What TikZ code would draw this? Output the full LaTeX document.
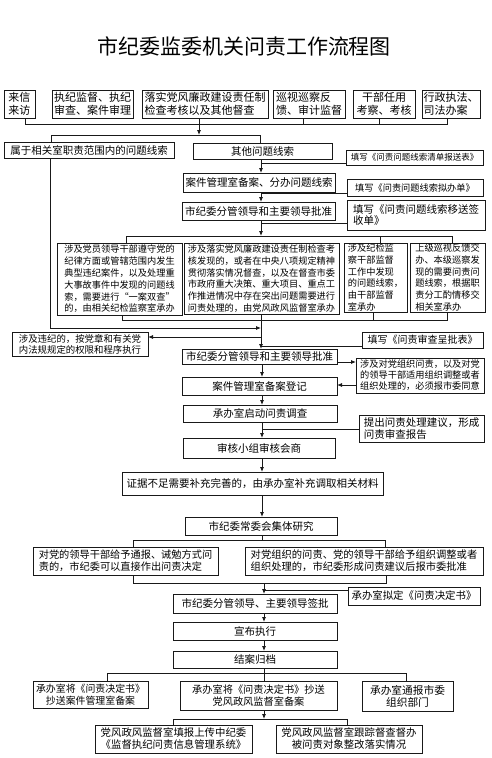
\documentclass[tikz,border=0pt]{standalone}
\usepackage{fontspec}
\setmainfont{Noto Sans CJK SC}
\usetikzlibrary{arrows.meta}
\tikzset{
  box/.style={draw=black!90, line width=0.8pt, inner sep=0pt, outer sep=0pt, align=center,
    font=\fontsize{10.5}{12.5}\selectfont},
  ln/.style={draw=black!90, line width=0.8pt},
  arr/.style={ln, -{Latex[length=5pt,width=4pt]}},
  small/.style={font=\fontsize{9.2}{11.8}\selectfont},
}
\newcommand\placebox[7][]{\node[box,minimum width={#4pt-#3pt},minimum height={#6pt-#5pt},#1] (#2) at ({(#3+#4)/2},{(#5+#6)/2}) {#7};}
\begin{document}
\begin{tikzpicture}[x=1pt,y=-1pt]
\fill[white] (0,0) rectangle (491,758);
\useasboundingbox (0,0) rectangle (491,758);
\node (title) at (244,46) {\fontsize{21}{21}\selectfont 市纪委监委机关问责工作流程图};
% top row
\placebox[font=\fontsize{11}{12.5}\selectfont]{t1}{4}{35}{90}{118}{来信\\来访}
\placebox[font=\fontsize{11}{12.5}\selectfont]{t2}{52}{133}{90}{118}{执纪监督、执纪\\审查、案件审理}
\placebox[font=\fontsize{11}{12.5}\selectfont,align=left]{t3}{142}{268}{90}{118}{落实党风廉政建设责任制\\检查考核以及其他督查}
\placebox[font=\fontsize{11}{12.5}\selectfont,align=left]{t4}{273}{345}{90}{118}{巡视巡察反\\馈、审计监督}
\placebox[font=\fontsize{11}{12.5}\selectfont]{t5}{353}{415}{90}{118}{干部任用\\考察、考核}
\placebox[font=\fontsize{11}{12.5}\selectfont,align=left]{t6}{422}{480}{90}{118}{行政执法、\\司法办案}
% row 2-4
\placebox{r1}{4}{174}{142}{158}{属于相关室职责范围内的问题线索}
\placebox{r2}{193}{332}{143}{159}{其他问题线索}
\placebox[font=\fontsize{8.5}{10}\selectfont]{n1}{346}{483}{150}{165}{填写《问责问题线索清单报送表》}
\placebox{r3}{183}{335}{173}{192}{案件管理室备案、分办问题线索}
\placebox[font=\fontsize{9.2}{10}\selectfont]{n2}{347}{483}{179}{196}{填写《问责问题线索拟办单》}
\placebox{r4}{182}{335}{202}{220}{市纪委分管领导和主要领导批准}
\placebox[align=left,font=\fontsize{10.5}{11.5}\selectfont]{n3}{347}{485}{200}{230}{填写《问责问题线索移送签\\收单》}
% row 5
\placebox[small,align=left]{A}{57}{182}{243}{315}{涉及党员领导干部遵守党的\\纪律方面或管辖范围内发生\\典型违纪案件，以及处理重\\大事故事件中发现的问题线\\索，需要进行“一案双查”\\的，由相关纪检监察室承办}
\placebox[small,align=left]{B}{184}{339}{243}{314}{涉及落实党风廉政建设责任制检查考\\核发现的，或者在中央八项规定精神\\贯彻落实情况督查，以及在督查市委\\市政府重大决策、重大项目、重点工\\作推进情况中存在突出问题需要进行\\问责处理的，由党风政风监督室承办}
\placebox[small,align=left]{C}{344}{407}{243}{312}{涉及纪检监\\察干部监督\\工作中发现\\的问题线索，\\由干部监督\\室承办}
\placebox[small,align=left]{D}{410}{485}{243}{312}{上级巡视反馈交\\办、本级巡察发\\现的需要问责问\\题线索，根据职\\责分工酌情移交\\相关室承办}
% middle
\placebox[align=left,font=\fontsize{9.4}{11}\selectfont]{L1}{12}{148}{332}{356}{涉及违纪的，按党章和有关党\\内法规规定的权限和程序执行}
\placebox[font=\fontsize{10}{11}\selectfont]{n4}{362}{483}{332}{348}{填写《问责审查呈批表》}
\placebox{r5}{182}{337}{349}{364}{市纪委分管领导和主要领导批准}
\placebox[align=left,font=\fontsize{9.2}{11}\selectfont]{n5}{356}{484}{358}{393}{涉及对党组织问责，以及对党\\的领导干部适用组织调整或者\\组织处理的，必须报市委同意}
\placebox{r6}{182}{337}{377}{395}{案件管理室备案登记}
\placebox{r7}{183}{337}{405}{422}{承办室启动问责调查}
\placebox[align=left,font=\fontsize{10.5}{12}\selectfont]{n6}{359}{484}{415}{442}{提出问责处理建议，形成\\问责审查报告}
\placebox{r8}{183}{335}{438}{458}{审核小组审核会商}
\placebox{r9}{122}{383}{472}{495}{证据不足需要补充完善的，由承办室补充调取相关材料}
\placebox{r10}{185}{337}{517}{535}{市纪委常委会集体研究}
\placebox[align=left,font=\fontsize{10.2}{12}\selectfont]{s1}{33}{218}{547}{575}{对党的领导干部给予通报、诫勉方式问\\责的，市纪委可以直接作出问责决定}
\placebox[align=left,font=\fontsize{10.3}{12}\selectfont]{s2}{245}{483}{547}{575}{对党组织的问责、党的领导干部给予组织调整或者\\组织处理的，市纪委形成问责建议后报市委批准}
\placebox[font=\fontsize{10.4}{12}\selectfont]{n7}{348}{480}{587}{605}{承办室拟定《问责决定书》}
\placebox{r11}{173}{337}{594}{613}{市纪委分管领导、主要领导签批}
\placebox{r12}{173}{337}{622}{640}{宣布执行}
\placebox{r13}{173}{337}{651}{668}{结案归档}
\placebox[font=\fontsize{9.9}{12}\selectfont]{u1}{33}{148}{681}{708}{承办室将《问责决定书》\\抄送案件管理室备案}
\placebox[font=\fontsize{10.2}{12}\selectfont]{u2}{180}{337}{681}{710}{承办室将《问责决定书》抄送\\党风政风监督室备案}
\placebox[font=\fontsize{10.7}{12}\selectfont]{u3}{362}{453}{681}{711}{承办室通报市委\\组织部门}
\placebox[font=\fontsize{10.4}{12}\selectfont]{v1}{95}{252}{725}{753}{党风政风监督室填报上传中纪委\\《监督执纪问责信息管理系统》}
\placebox[font=\fontsize{10.4}{12}\selectfont]{v2}{276}{422}{725}{753}{党风政风监督室跟踪督查督办\\被问责对象整改落实情况}
% columns
\coordinate (c1) at (261,0);
\coordinate (c2) at (262,0);
\coordinate (c3) at (264,0);
% top connectors
\coordinate (k1) at (25,124); \coordinate (k4) at (303,124);
\coordinate (k5) at (379,124); \coordinate (k6) at (447,124);
\draw[ln] (t1.south -| k1) -- (k1) -- (k6) -- (t6.south -| k6);
\draw[ln] (t4.south -| k4) -- (k4);
\draw[ln] (t5.south -| k5) -- (k5);
\coordinate (m3) at (199,135);
\draw[arr] (t3.south -| m3) -- (m3);
\coordinate (q1) at (51,135); \coordinate (q2) at (260,135);
\draw[ln] (r1.north -| q1) -- (q1) -- (q2) -- (r2.north -| q2);
% upper column
\draw[arr] (r2.south -| c1) -- (r3.north -| c1);
\draw[ln] ([yshift=2pt]n1.south west) -- ([yshift=2pt]n1.south west -| c1);
\draw[arr] (r3.south -| c1) -- (r4.north -| c1);
\draw[ln] ([yshift=3pt]n2.south west) -- ([yshift=3pt]n2.south west -| c1);
\draw[ln] ([yshift=7pt]n3.south west) -- ([yshift=7pt]n3.south west -| c1);
\coordinate (d1) at (126,236); \coordinate (d3) at (380,236); \coordinate (d4) at (452,236);
\draw[arr] (r4.south -| c1) -- (c1 |- d1);
\draw[ln] (A.north -| d1) -- (d1) -- (d4) -- (D.north -| d4);
\draw[ln] (d3) -- (C.north -| d3);
% bracket under row 5
\coordinate (e1) at (122,320); \coordinate (e3) at (373,320); \coordinate (e4) at (447,320);
\draw[ln] (A.south -| e1) -- (e1) -- (e4) -- (D.south -| e4);
\draw[ln] (C.south -| e3) -- (e3);
\draw[arr] (B.south -| c1) -- (r5.north -| c1);
% left loop
\coordinate (lp) at (50,328);
\draw[arr] (r1.south -| lp) -- (lp) -- (lp -| c1);
\coordinate (y337) at (0,337);
\draw[arr] (c1 |- y337) -- (L1.east |- y337);
\draw[ln] ([yshift=2pt]n4.south west) -- ([yshift=2pt]n4.south west -| c1);
% middle column
\draw[arr] ([yshift=2pt]r5.south east) -- ([yshift=2pt]r5.south east -| n5.west);
\draw[arr] ([yshift=8pt]n5.south west) -- ([yshift=8pt]n5.south west -| r6.east);
\draw[arr] (r5.south -| c2) -- (r6.north -| c2);
\draw[arr] (r6.south -| c2) -- (r7.north -| c2);
\draw[arr] (r7.south -| c2) -- (r8.north -| c2);
\draw[ln] ([yshift=-1pt]n6.west) -- ([yshift=-1pt]n6.west -| c2);
\draw[arr] (r8.south -| c2) -- (r9.north -| c2);
\draw[arr] (r9.south -| c2) -- (r10.north -| c2);
% decision split
\coordinate (f1) at (133,540); \coordinate (f2) at (385,540);
\draw[ln] (r10.south -| c2) -- (c2 |- f1);
\draw[ln] (s1.north -| f1) -- (f1) -- (f2) -- (s2.north -| f2);
\coordinate (g1) at (133,583); \coordinate (g2) at (386,583);
\draw[ln] (s1.south -| g1) -- (g1) -- (g2) -- (s2.south -| g2);
\draw[arr] (c3 |- g1) -- (r11.north -| c3);
\draw[ln] ([yshift=-3pt]n7.north west) -- ([yshift=-3pt]n7.north west -| c3);
\draw[arr] (r11.south -| c3) -- (r12.north -| c3);
\draw[arr] (r12.south -| c3) -- (r13.north -| c3);
% final split
\coordinate (h1) at (107,673); \coordinate (h3) at (406,673);
\draw[ln] (r13.south -| c3) -- (u2.north -| c3);
\draw[ln] (u1.north -| h1) -- (h1) -- (h3) -- (u3.north -| h3);
\coordinate (i1) at (173,719); \coordinate (i2) at (347,719);
\draw[arr] (u2.south -| c3) -- (c3 |- i1);
\draw[ln] (v1.north -| i1) -- (i1) -- (i2) -- (v2.north -| i2);
\end{tikzpicture}
\end{document}
